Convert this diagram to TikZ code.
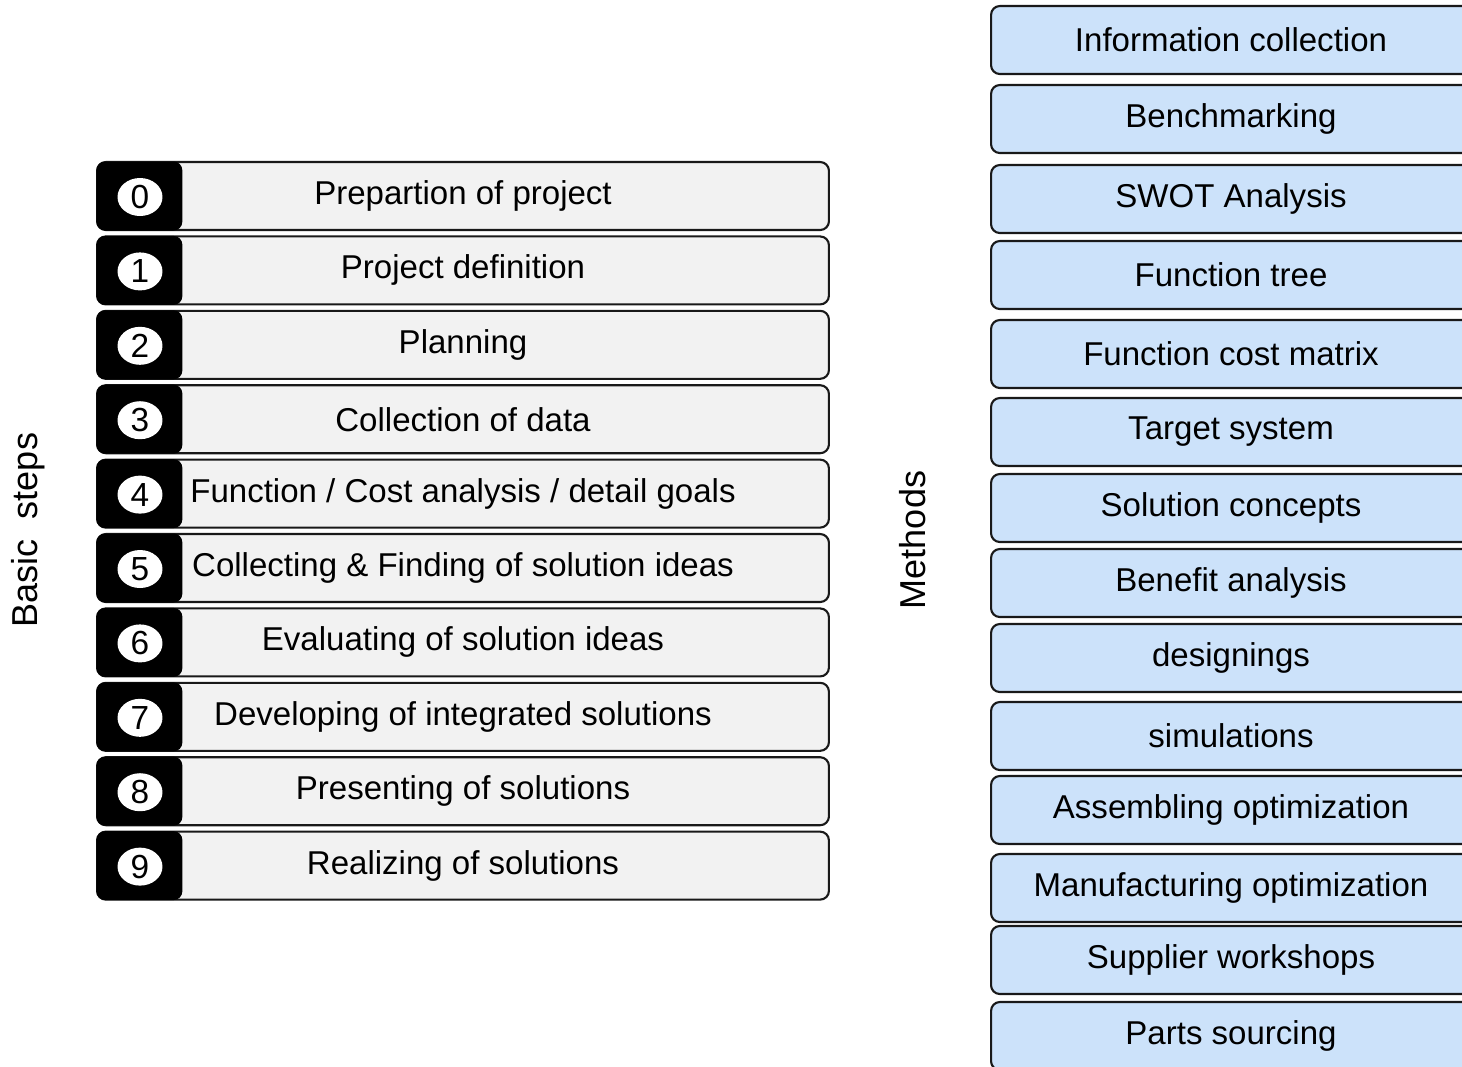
\documentclass[tikz,border=0pt]{standalone}
\usepackage{fontspec}
\setmainfont{Liberation Sans}
\usetikzlibrary{positioning, shapes.geometric}

\definecolor{stepgray}{RGB}{242,242,242}
\definecolor{methodblue}{RGB}{204,226,250}

\begin{document}
\begin{tikzpicture}[
        x=0.02cm, y=-0.02cm,
        stepbox/.style={rectangle, rounded corners=5pt, draw=black!90, line width=1.2pt, fill=stepgray, minimum width=14.64cm, minimum height=1.36cm, inner sep=0pt, font=\fontsize{18.8}{22}\selectfont},
        tab/.style={rectangle, rounded corners=5pt, fill=black, minimum width=1.72cm, minimum height=1.38cm, anchor=west},
        num/.style={ellipse, fill=white, minimum width=0.9cm, minimum height=0.76cm, inner sep=0pt, font=\fontsize{19}{22}\selectfont},
        methodbox/.style={rectangle, rounded corners=5pt, draw=black!90, line width=1.2pt, fill=methodblue, minimum width=9.6cm, minimum height=1.36cm, inner sep=0pt, font=\fontsize{18.8}{22}\selectfont},
        sidelabel/.style={rotate=90, font=\fontsize{20.5}{24}\selectfont}
    ]
    \clip (0,0) rectangle (1462,1066);

    % basic steps
    \foreach \i/\name in {0/Prepartion of project, 1/Project definition, 2/Planning,
        3/Collection of data, 4/{Function / Cost analysis / detail goals},
        5/{Collecting \& Finding of solution ideas}, 6/Evaluating of solution ideas,
        7/Developing of integrated solutions, 8/Presenting of solutions, 9/Realizing of solutions} {
        \node[stepbox] (s\i) at (463, 196 + 74.4*\i) {\name};
        \node[tab] (t\i) at (s\i.west) {};
        \node[num] (n\i) at (140, 197 + 74.4*\i) {\i};
    }

    % methods
    \foreach \i/\y/\name in {0/40/Information collection, 1/119/Benchmarking, 2/199/SWOT Analysis,
        3/275/Function tree, 4/354/Function cost matrix, 5/432/Target system, 6/508/Solution concepts,
        7/583/Benefit analysis, 8/658/designings, 9/736/simulations, 10/810/Assembling optimization,
        11/888/Manufacturing optimization, 12/960/Supplier workshops, 13/1036/Parts sourcing} {
        \node[methodbox] (m\i) at (1231, \y) {\name};
    }

    \node[sidelabel] (basic) at (28, 530) {Basic\ \ steps};
    \node[sidelabel] (methods) at (913, 540) {Methods};
\end{tikzpicture}
\end{document}
